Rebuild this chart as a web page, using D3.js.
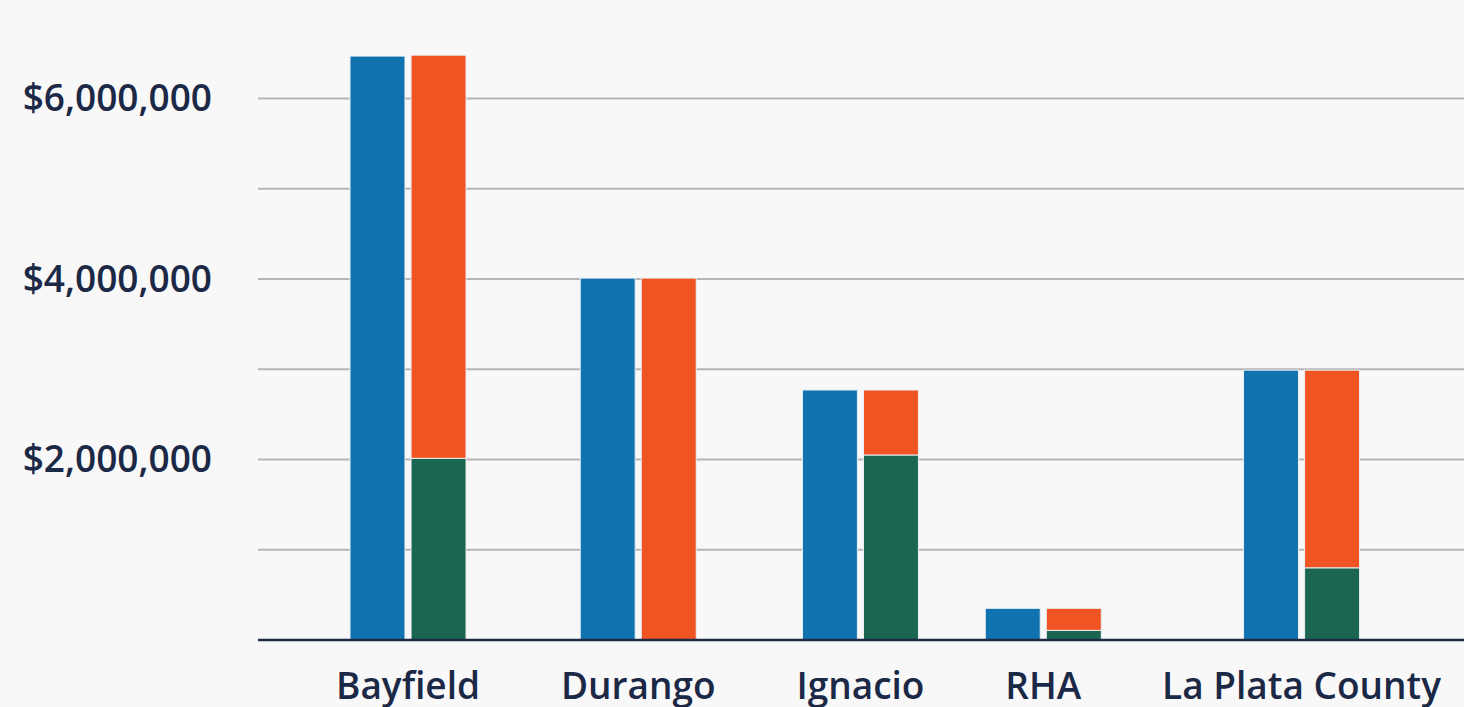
<!DOCTYPE html>
<html>
<head>
<meta charset="utf-8">
<script src="https://cdn.jsdelivr.net/npm/d3@7"></script>
<style>
  html, body { margin: 0; padding: 0; background: #f8f8f9; }
  svg { display: block; }
  text { font-family: "Open Sans", sans-serif; font-weight: 600; fill: #1b2846; }
</style>
</head>
<body>
<svg id="chart" width="1464" height="707"></svg>
<script>
// Funding by jurisdiction
const categories = ["Bayfield", "Durango", "Ignacio", "RHA", "La Plata County"];
// left bar of each pair
const totalFunding = [6470000, 4010000, 2770000, 351000, 2990000];
// right bar: lower segment
const spentFunding = [2013000, 0, 2050000, 107000, 800000];
// right bar: upper segment (stacked on spent)
const remainingFunding = [4467000, 4010000, 720000, 244000, 2190000];
const yTicks = [2000000, 4000000, 6000000];
const gridValues = [1000000, 2000000, 3000000, 4000000, 5000000, 6000000];

const colors = { total: "#1172b0", spent: "#1b6650", remaining: "#f05423" };

const plot = { left: 258, right: 1464, top: 0, bottom: 640 };

const svg = d3.select("#chart");

const y = d3.scaleLinear()
  .domain([0, 6000000])
  .range([plot.bottom, 98.5]);

// gridlines
svg.append("g")
  .selectAll("line")
  .data(gridValues)
  .join("line")
  .attr("x1", plot.left).attr("x2", plot.right)
  .attr("y1", d => y(d)).attr("y2", d => y(d))
  .attr("stroke", "#b5b5b7").attr("stroke-width", 2);

// y tick labels
const fmt = d3.format("$,.0f");
svg.append("g")
  .selectAll("text")
  .data(yTicks)
  .join("text")
  .attr("x", 212)
  .attr("y", d => y(d))
  .attr("dy", "0.35em")
  .attr("text-anchor", "end")
  .style("font-size", "37px")
  .text(d => fmt(d));

// category labels laid out in a row with even gaps between them
const labelY = 699;
const labelG = svg.append("g");
const labels = labelG.selectAll("text")
  .data(categories)
  .join("text")
  .attr("y", labelY)
  .attr("text-anchor", "start")
  .style("font-size", "37px")
  .text(d => d);

const widths = [];
labels.each(function () { widths.push(this.getComputedTextLength()); });
const rowStart = 336, rowEnd = 1441;
const gap = (rowEnd - rowStart - d3.sum(widths)) / (categories.length - 1);
const centers = [];
let cursor = rowStart;
widths.forEach(w => { centers.push(cursor + w / 2); cursor += w + gap; });
labels.attr("x", (d, i) => centers[i]).attr("text-anchor", "middle");

// category position scale built from the label centres
const xCenter = d3.scaleOrdinal().domain(categories).range(centers);
const inner = d3.scaleBand()
  .domain(["total", "split"])
  .range([-58, 58])
  .paddingInner(0.1);

const rows = categories.map((c, i) => ({
  category: c,
  total: totalFunding[i],
  spent: spentFunding[i],
  remaining: remainingFunding[i]
}));

const stack = d3.stack().keys(["spent", "remaining"])(rows);

const bars = svg.append("g");

// left bars
bars.selectAll("rect.total")
  .data(rows)
  .join("rect")
  .attr("class", "total")
  .attr("x", d => xCenter(d.category) + inner("total"))
  .attr("width", inner.bandwidth())
  .attr("y", d => y(d.total))
  .attr("height", d => y(0) - y(d.total))
  .attr("fill", colors.total)
  .attr("stroke", "#e9eef3").attr("stroke-width", 1);

// right stacked bars
stack.forEach(layer => {
  bars.selectAll("rect." + layer.key)
    .data(layer.filter(s => s[1] - s[0] > 0))
    .join("rect")
    .attr("class", layer.key)
    .attr("x", s => xCenter(s.data.category) + inner("split"))
    .attr("width", inner.bandwidth())
    .attr("y", s => y(s[1]))
    .attr("height", s => y(s[0]) - y(s[1]))
    .attr("fill", colors[layer.key])
    .attr("stroke", "#e9eef3").attr("stroke-width", 1);
});

// baseline
svg.append("line")
  .attr("x1", plot.left).attr("x2", plot.right)
  .attr("y1", y(0)).attr("y2", y(0))
  .attr("stroke", "#1f2a44").attr("stroke-width", 2.5);
</script>
</body>
</html>
